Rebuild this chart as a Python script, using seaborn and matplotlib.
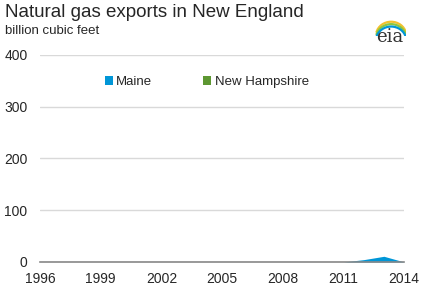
import numpy as np
import pandas as pd
import matplotlib
matplotlib.use("Agg")
import matplotlib.pyplot as plt
from matplotlib.patches import Patch, Arc
import seaborn as sns

years = list(range(1996, 2015))
maine = [0, 0, 0, 0, 0, 0, 0, 0, 0, 0, 0, 0, 0, 0, 0, 0, 4.5, 11, 0]
new_hampshire = [0] * 19
series_names = ["Maine", "New Hampshire"]
colors = ["#0096d7", "#5d9732"]
xticks = [1996, 1999, 2002, 2005, 2008, 2011, 2014]
yticks = [0, 100, 200, 300, 400]

sns.set_style("white")
plt.rcParams["font.family"] = ["Liberation Sans", "DejaVu Sans"]

df = pd.DataFrame({"year": years, "Maine": maine, "New Hampshire": new_hampshire})

fig = plt.figure(figsize=(4.21, 2.86), dpi=100)
ax = fig.add_axes([0.095, 0.084, 0.865, 0.724])

ax.stackplot(df["year"], df["Maine"], df["New Hampshire"], colors=colors, linewidth=0)
sns.lineplot(data=df, x="year", y="Maine", ax=ax, color=colors[0], linewidth=0, legend=False)

ax.set_xlim(1996, 2014)
ax.set_ylim(0, 400)
ax.set_xticks(xticks)
ax.set_xticks(years, minor=True)
ax.set_yticks(yticks)
ax.set_xlabel("")
ax.set_ylabel("")
for s in ["top", "right", "left"]:
    ax.spines[s].set_visible(False)
ax.spines["bottom"].set_color("#888888")
ax.spines["bottom"].set_linewidth(1.2)
ax.set_axisbelow(True)
ax.yaxis.grid(True, color="#d9d9d9", linewidth=1)
ax.tick_params(axis="x", which="both", direction="out", length=5, color="#888888", width=1, labelsize=10, pad=2)
ax.tick_params(axis="y", length=0, labelsize=10, pad=9)

handles = [Patch(facecolor=c, edgecolor="none") for c in colors]
leg = ax.legend(handles, series_names, loc="upper left", bbox_to_anchor=(0.145, 0.955), ncol=2,
                frameon=False, handlelength=0.6, handleheight=0.6, handletextpad=0.25,
                columnspacing=3.9, fontsize=9.5)

fig.text(0.012, 0.955, "Natural gas exports in New England", fontsize=13.5, va="center", ha="left")
fig.text(0.012, 0.893, "billion cubic feet", fontsize=9.5, va="center", ha="left")

# eia logo
fig.text(0.925, 0.87, "eia", fontsize=13, family="DejaVu Serif", color="#333333", ha="center", va="center")
lax = fig.add_axes([0.885, 0.875, 0.08, 0.07])
lax.set_xlim(0, 1); lax.set_ylim(0, 1); lax.axis("off")
for i, c in enumerate(["#f2c12e", "#8cc63f", "#0096d7"]):
    lax.add_patch(Arc((0.55, 0.0 - i * 0.12), 0.9, 1.4, theta1=20, theta2=160, color=c, linewidth=1.6))

fig.savefig("out.png", dpi=100)
